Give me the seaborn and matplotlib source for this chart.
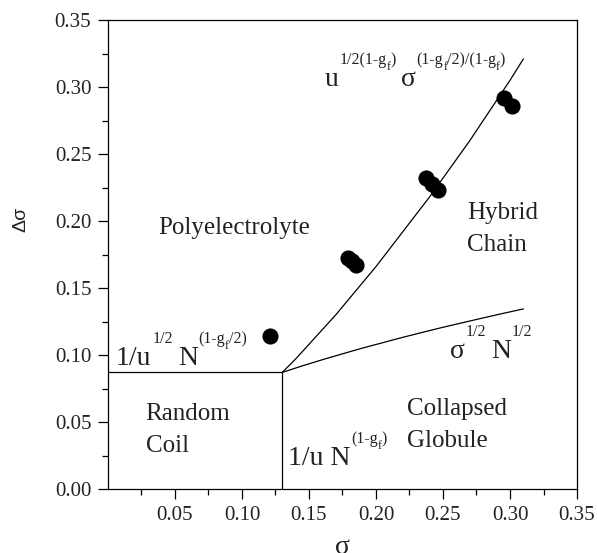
import matplotlib
matplotlib.use("Agg")
import matplotlib.pyplot as plt
import seaborn as sns

# ---- data ----
pts_sigma = [0.1209, 0.1794, 0.1821, 0.1848, 0.2373, 0.2418, 0.2463, 0.2953, 0.3017]
pts_dsigma = [0.1142, 0.1726, 0.1699, 0.1672, 0.2323, 0.2279, 0.2234, 0.2920, 0.2861]

upper_sigma = [0.13, 0.14, 0.15, 0.16, 0.17, 0.18, 0.19, 0.20, 0.21, 0.22,
               0.23, 0.24, 0.25, 0.26, 0.27, 0.28, 0.29, 0.30, 0.31]
upper_dsigma = [0.087, 0.097, 0.108, 0.119, 0.130, 0.142, 0.154, 0.166, 0.179, 0.192,
                0.205, 0.218, 0.232, 0.246, 0.260, 0.275, 0.290, 0.305, 0.321]

lower_sigma = [0.13, 0.145, 0.16, 0.175, 0.19, 0.205, 0.22, 0.235, 0.25, 0.265,
               0.28, 0.295, 0.31]
lower_dsigma = [0.087, 0.0919, 0.0965, 0.1009, 0.1052, 0.1092, 0.1132, 0.1170,
                0.1207, 0.1242, 0.1277, 0.1311, 0.1344]

horiz_sigma = [0.0, 0.13]
horiz_dsigma = [0.087, 0.087]
vert_sigma = [0.13, 0.13]
vert_dsigma = [0.0, 0.087]

xticks = [0.05, 0.10, 0.15, 0.20, 0.25, 0.30, 0.35]
yticks = [0.00, 0.05, 0.10, 0.15, 0.20, 0.25, 0.30, 0.35]

region_labels = ["Polyelectrolyte", "Hybrid\nChain", "Random\nCoil", "Collapsed\nGlobule"]
region_pos = [(0.0373, 0.195), (0.268, 0.194), (0.028, 0.0440), (0.223, 0.0480)]

sns.set_theme(style="ticks")
plt.rcParams["font.family"] = ["Liberation Serif", "DejaVu Serif"]

fig = plt.figure(figsize=(5.97, 5.53), dpi=100)
ax = fig.add_axes([0.1809, 0.1157, 0.7856, 0.8481])

line_kw = dict(color="black", linewidth=0.9, estimator=None, sort=False, ax=ax, legend=False)
sns.lineplot(x=horiz_sigma, y=horiz_dsigma, **line_kw)
sns.lineplot(x=vert_sigma, y=vert_dsigma, **line_kw)
sns.lineplot(x=upper_sigma, y=upper_dsigma, **line_kw)
sns.lineplot(x=lower_sigma, y=lower_dsigma, **line_kw)

sns.scatterplot(x=pts_sigma, y=pts_dsigma, color="black", s=135, linewidth=0,
                ax=ax, legend=False, zorder=5)

ax.set_xlim(0, 0.35)
ax.set_ylim(0, 0.35)
ax.set_xticks(xticks)
ax.set_xticklabels([f"{v:.2f}" for v in xticks])
ax.set_yticks(yticks)
ax.set_yticklabels([f"{v:.2f}" for v in yticks])
ax.set_xticks([0.025 + 0.05 * i for i in range(7)], minor=True)
ax.set_yticks([0.025 + 0.05 * i for i in range(7)], minor=True)
ax.tick_params(which="major", direction="out", length=7, width=0.9,
               labelsize=15, pad=5, color="black", labelcolor="#222222")
ax.tick_params(which="minor", direction="out", length=4, width=0.9, color="black")
for sp in ax.spines.values():
    sp.set_visible(True)
    sp.set_linewidth(0.9)
    sp.set_color("black")

ax.set_ylabel("Δσ", fontsize=14, family=["Liberation Sans", "DejaVu Sans"], color="#222222")
ax.yaxis.set_label_coords(-0.167, 0.574)
ax.set_xlabel("σ", fontsize=20, color="#222222")
ax.xaxis.set_label_coords(0.5, -0.098)

tc = "#222222"
for lab, (x, y) in zip(region_labels, region_pos):
    ax.text(x, y, lab, fontsize=18, va="center", ha="left", linespacing=1.6, color=tc)

MAIN, SUP, SUB = 20, 11.5, 8.5
RISE_SUP, RISE_SUB = 15.6, 11.3


def chain(x, y, pieces):
    """pieces: list of (text, kind, gap_pts) with kind in 'm','p','b'."""
    prev = None
    for txt, kind, gap in pieces:
        size = {"m": MAIN, "p": SUP, "b": SUB}[kind]
        rise = {"m": 0.0, "p": RISE_SUP, "b": RISE_SUB}[kind]
        if prev is None:
            prev = ax.text(x, y, txt, fontsize=size, va="baseline", ha="left", color=tc)
        else:
            prev = ax.annotate(txt, xy=(1, y), xycoords=(prev, "data"),
                               xytext=(gap, rise), textcoords="offset points",
                               fontsize=size, va="baseline", ha="left", color=tc)


chain(0.162, 0.3007, [("u", "m", 0), ("1/2(1-g", "p", 0.6), ("f", "b", 0),
                      (")", "p", 0), ("σ", "m", 3.5), ("(1-g", "p", 0.5), ("f", "b", 0),
                      ("/2)/(1-g", "p", 0), ("f", "b", 0), (")", "p", 0)])
chain(0.006, 0.0925, [("1/u", "m", 0), ("1/2", "p", 0.6), ("N", "m", 3.5),
                      ("(1-g", "p", 0.5), ("f", "b", 0), ("/2)", "p", 0)])
chain(0.1346, 0.018, [("1/u N", "m", 0), ("(1-g", "p", 0.3), ("f", "b", 0), (")", "p", 0)])
chain(0.255, 0.098, [("σ", "m", 0), ("1/2", "p", 0.6), ("N", "m", 3.5), ("1/2", "p", 0.6)])

fig.savefig("out.png", dpi=100)
